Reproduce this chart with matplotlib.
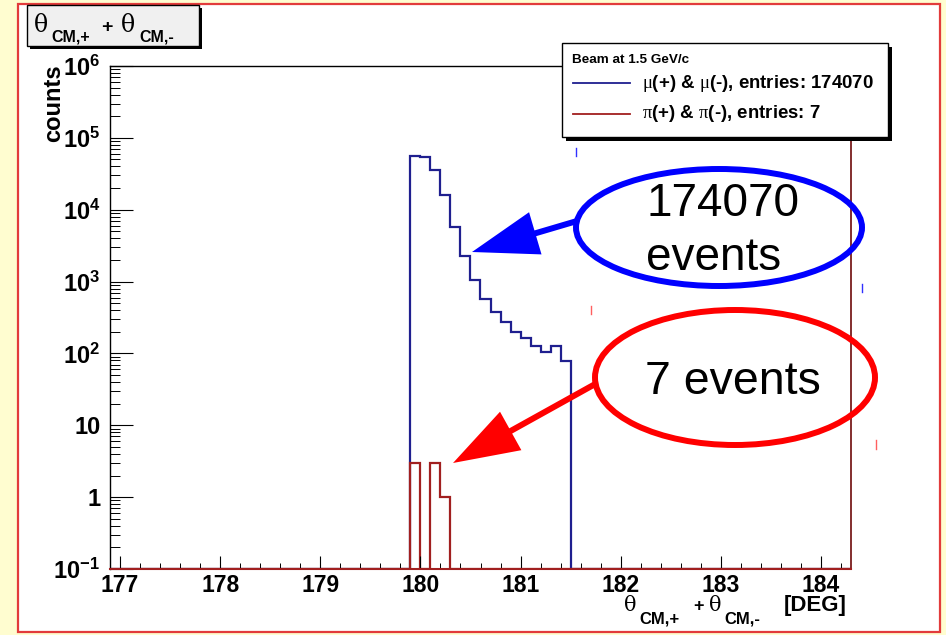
import numpy as np
import matplotlib
matplotlib.use('Agg')
import matplotlib.pyplot as plt
from matplotlib.patches import Rectangle, Ellipse, FancyArrow
from matplotlib.ticker import FixedLocator, MultipleLocator, LogLocator, NullFormatter

plt.rcParams['font.family'] = ['Liberation Sans', 'DejaVu Sans']
plt.rcParams['mathtext.fontset'] = 'custom'
plt.rcParams['mathtext.rm'] = 'Liberation Sans'
plt.rcParams['mathtext.bf'] = 'Liberation Sans:bold'
plt.rcParams['mathtext.it'] = 'Liberation Serif'

# ---------------- data ----------------
bin_width = 0.1
x_min, x_max = 176.9, 184.3
first_edge = 179.9
mu_counts = [55500, 55000, 36000, 15800, 5800, 2300, 1060, 570, 380, 270,
             200, 162, 128, 104, 126, 79]
pi_counts = [3, 0, 3, 1]
mu_entries = 174070
pi_entries = 7
x_ticks = [177, 178, 179, 180, 181, 182, 183, 184]
y_ticks = [0.1, 1, 10, 1e2, 1e3, 1e4, 1e5, 1e6]
y_tick_labels = [r'$\mathbf{10^{-1}}$', '1', '10', r'$\mathbf{10^{2}}$',
                 r'$\mathbf{10^{3}}$', r'$\mathbf{10^{4}}$', r'$\mathbf{10^{5}}$',
                 r'$\mathbf{10^{6}}$']
y_min, y_max = 0.1, 1e6
legend_title = 'Beam at 1.5 GeV/c'
mu_label = r'$\mu$(+) & $\mu$(-), entries: ' + str(mu_entries)
pi_label = r'$\pi$(+) & $\pi$(-), entries: ' + str(pi_entries)
x_unit = '[DEG]'

# ---------------- figure ----------------
W, H = 946, 635
fig = plt.figure(figsize=(W / 100, H / 100), dpi=100)
fig.patch.set_facecolor('#fffdd0')

def pixel_axes(z):
    a = fig.add_axes([0, 0, 1, 1], zorder=z)
    a.set_xlim(0, W)
    a.set_ylim(H, 0)
    a.axis('off')
    a.patch.set_alpha(0)
    return a

bg = pixel_axes(-1)
bg.add_patch(Rectangle((18, 4), 922, 628, facecolor='white',
                       edgecolor='#e23b3b', lw=1.6))

# main axes (pixel box: x 110..851, y 66..569)
L, R, T, B = 110, 851, 66, 569
ax = fig.add_axes([L / W, 1 - B / H, (R - L) / W, (B - T) / H], zorder=1)
ax.set_facecolor('white')

n_bins = int(round((x_max - x_min) / bin_width))
edges = x_min + bin_width * np.arange(n_bins + 1)
i0 = int(round((first_edge - x_min) / bin_width))
full_mu = np.zeros(n_bins)
full_mu[i0:i0 + len(mu_counts)] = mu_counts
full_pi = np.zeros(n_bins)
full_pi[i0:i0 + len(pi_counts)] = pi_counts

blue = '#1f1f8f'
red = '#a11f1f'
ax.stairs(np.maximum(full_mu, y_min), edges, baseline=None, color=blue, lw=1.6)
ax.stairs(np.maximum(full_pi, y_min), edges, baseline=None, color=red, lw=1.6)

ax.set_yscale('log')
ax.set_xlim(x_min, x_max)
ax.set_ylim(y_min, y_max)
ax.yaxis.set_major_locator(FixedLocator(y_ticks))
ax.set_yticklabels(y_tick_labels)
ax.yaxis.set_minor_locator(LogLocator(base=10, subs=np.arange(2, 10), numticks=30))
ax.yaxis.set_minor_formatter(NullFormatter())
ax.xaxis.set_major_locator(FixedLocator(x_ticks))
ax.set_xticklabels([str(t) for t in x_ticks])
ax.xaxis.set_minor_locator(MultipleLocator(0.2))

ax.tick_params(axis='y', which='major', direction='in', length=16.5, width=0.8,
               labelsize=17, pad=7, right=False)
ax.tick_params(axis='y', which='minor', direction='in', length=7, width=0.7, right=False)
ax.tick_params(axis='x', which='major', direction='in', length=9.5, width=0.8,
               labelsize=16.5, pad=3.5, top=False)
ax.tick_params(axis='x', which='minor', direction='in', length=4.3, width=0.7, top=False)
for lab in ax.get_xticklabels() + ax.get_yticklabels():
    lab.set_fontweight('bold')

ax.spines['left'].set_color('black')
ax.spines['left'].set_linewidth(1.0)
ax.spines['top'].set_color('black')
ax.spines['top'].set_linewidth(1.0)
ax.spines['right'].set_color('#7a1d1d')
ax.spines['right'].set_linewidth(1.3)
ax.spines['bottom'].set_color(red)
ax.spines['bottom'].set_linewidth(1.5)

# ---------------- overlay ----------------
ov = pixel_axes(5)
serif = ['DejaVu Serif', 'Liberation Serif']

def theta_title(x_pos, base, big, sub, plus, sub_drop):
    """Draw 'theta_CM,+ + theta_CM,-' piece by piece at given pixel positions."""
    x_t1, x_s1, x_p, x_t2, x_s2 = x_pos
    ov.text(x_t1, base, '\u03b8', family=serif, fontsize=big, ha='left', va='baseline')
    ov.text(x_s1, base + sub_drop, 'CM,+', fontsize=sub, fontweight='bold',
            ha='left', va='baseline')
    ov.text(x_p, base, '+', fontsize=plus, fontweight='bold', ha='left', va='baseline')
    ov.text(x_t2, base, '\u03b8', family=serif, fontsize=big, ha='left', va='baseline')
    ov.text(x_s2, base + sub_drop, 'CM,-', fontsize=sub, fontweight='bold',
            ha='left', va='baseline')

# title box
ov.add_patch(Rectangle((30, 8), 172, 41, facecolor='black', lw=0))
ov.add_patch(Rectangle((27, 5), 172, 41, facecolor='#f0f0f0', edgecolor='black', lw=1))
theta_title((34, 51, 101, 121, 139), 32, 17, 11.5, 14, 10)

# y label
ov.text(54, 64, 'counts', rotation=90, fontsize=17, fontweight='bold',
        ha='center', va='top')

# x label
theta_title((624, 639, 693, 709, 724), 611, 15, 12, 13, 13)
ov.text(847, 611, x_unit, fontsize=16, fontweight='bold', ha='right', va='baseline')

# legend
ov.add_patch(Rectangle((566, 47), 326, 94, facecolor='black', lw=0))
ov.add_patch(Rectangle((562, 43), 326, 94, facecolor='white', edgecolor='black', lw=1))
ov.text(572, 60, legend_title, fontsize=9.7, fontweight='bold', ha='left', va='center')
ov.plot([573, 630], [83, 83], color=blue, lw=1.3)
ov.plot([573, 630], [114, 114], color=red, lw=1.3)
ov.text(642, 83, mu_label, fontsize=13.4, fontweight='bold', ha='left', va='center')
ov.text(642, 114, pi_label, fontsize=13.4, fontweight='bold', ha='left', va='center')

# annotations
ov.add_patch(Ellipse((719, 227.5), 286, 117, fill=False, edgecolor='#0000ff', lw=4.3))
ov.add_patch(FancyArrow(577, 221, 472 - 577, 252 - 221, width=6, head_width=44,
                        head_length=66, length_includes_head=True,
                        color='#0000ff', lw=0))
ov.text(646, 216.5, '174070', fontsize=33, ha='left', va='baseline', color='black')
ov.text(646, 270, 'events', fontsize=33, ha='left', va='baseline', color='black')

ov.add_patch(Ellipse((735, 377.5), 280, 135, fill=False, edgecolor='#ff0000', lw=4.3))
ov.add_patch(FancyArrow(597, 383, 453 - 597, 463 - 383, width=6, head_width=44,
                        head_length=66, length_includes_head=True,
                        color='#ff0000', lw=0))
ov.text(645, 394, '7 events', fontsize=33.5, ha='left', va='baseline', color='black')

# small stray marks
ov.plot([576, 576], [148, 156], color='#3030ff', lw=1)
ov.plot([862, 862], [284, 292], color='#3030ff', lw=1)
ov.plot([591, 591], [306, 314], color='#ff6060', lw=1)
ov.plot([876, 876], [440, 449], color='#ff6060', lw=1)

fig.savefig('out.png', dpi=100)
